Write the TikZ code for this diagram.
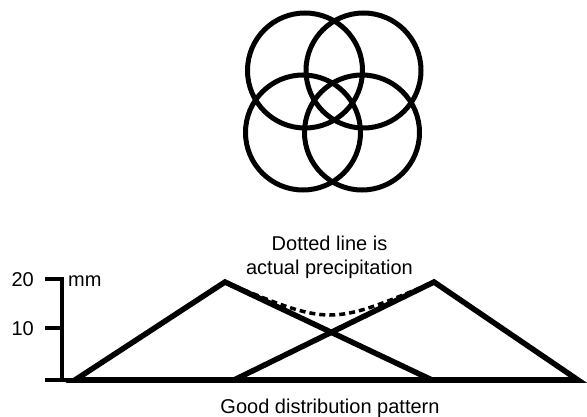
\documentclass[tikz,border=0pt]{standalone}
\usepackage{fontspec}
\setmainfont{Liberation Sans}
\begin{document}
\begin{tikzpicture}[x=1pt,y=-1pt,
  ring/.style={line width=5pt},
  tri/.style={line width=5.5pt,line join=miter},
  axisline/.style={line width=3.5pt},
  precip/.style={line width=3.5pt,dash pattern=on 6pt off 4pt},
  lbl/.style={inner sep=0pt,font=\fontsize{20}{24}\selectfont}]
\useasboundingbox (0,0) rectangle (587,417);
% circles
\draw[ring] (305,70.5) circle[radius=57.5pt];
\draw[ring] (363.5,70.5) circle[radius=57.5pt];
\draw[ring] (303,132.5) circle[radius=57.5pt];
\draw[ring] (362,132.5) circle[radius=57.5pt];
% axis
\coordinate (top) at (45,279);
\coordinate (corner) at (62,279);
\coordinate (bot) at (62,380);
\draw[axisline] (top) -- (corner) -- (bot);
\draw[axisline] (45,328) -- (62,328);
\draw[axisline] (45,380) -- (80,380);
% triangles
\coordinate (a1) at (75,380);
\coordinate (p1) at (225,282);
\coordinate (b1) at (432,380);
\coordinate (a2) at (234,380);
\coordinate (p2) at (434,282);
\coordinate (b2) at (578,380);
\draw[tri] (a1) -- (p1) -- (b1) -- cycle;
\draw[tri] (a2) -- (p2) -- (b2) -- cycle;
\draw[tri] (a1) -- (b2);
% actual precipitation
\draw[precip] (p1) .. controls (330,326) .. (p2);
% labels
\node[lbl,anchor=base east] (l20) at (34,287) {20};
\node[lbl,anchor=base east] (l10) at (34,335) {10};
\node[lbl,anchor=base west] (lmm) at (68,287) {mm};
\node[lbl,anchor=base] (t1) at (329.5,251) {Dotted line is};
\node[lbl,anchor=base] (t2) at (329.5,274) {actual precipitation};
\node[lbl,anchor=base] (cap) at (330,413) {Good distribution pattern};
\end{tikzpicture}
\end{document}
